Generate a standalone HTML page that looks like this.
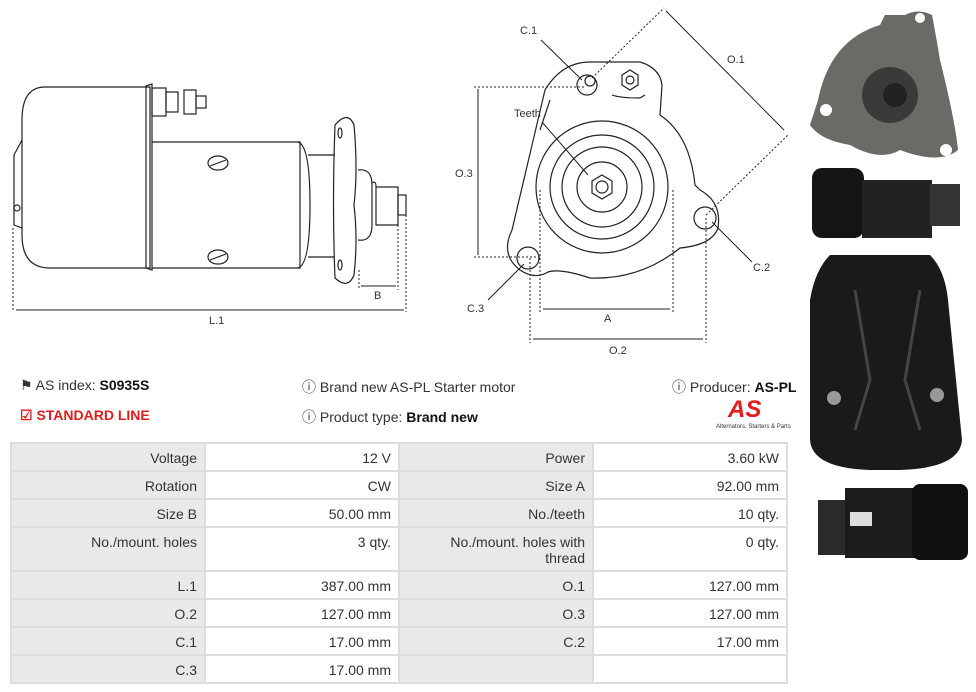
<!DOCTYPE html>
<html><head><meta charset="utf-8"><style>
body{margin:0;width:976px;height:692px;background:#fff;font-family:"Liberation Sans",sans-serif;position:relative;overflow:hidden;color:#333}
.t{position:absolute;font-size:14px;white-space:nowrap}
table{position:absolute;left:10px;top:442px;border-collapse:collapse;font-size:14px;color:#333}
td{border:2px solid #ddd;text-align:right;padding:6px 7px 4px 6px;vertical-align:top;height:16px}
td.l{background:#e9e9e9;width:179px}
td.v{width:179px}
</style></head><body>
<svg style="position:absolute;left:0;top:0" width="976" height="692" viewBox="0 0 976 692" fill="none" stroke="#222" stroke-width="1.2">
<path d="M150 87 H45 Q22 87 22 120 V235 Q22 268 50 268 H150 Z"/>
<path d="M22 140 L14 155 V225 L22 228"/>
<circle cx="17" cy="208" r="3"/>
<path d="M146 86 L152 84 V270 L146 268 Z"/>
<rect x="152" y="88" width="14" height="28"/>
<rect x="166" y="92" width="12" height="20"/><rect x="184" y="90" width="12" height="24"/><rect x="196" y="96" width="10" height="12"/>
<path d="M152 142 H300 V268 H152"/>
<path d="M298 142 Q310 145 310 205 Q310 265 298 268"/>
<path d="M308 155 H335 M308 257 H335"/>
<path d="M335 125 Q348 110 354 125 Q358 170 354 205 Q358 240 354 275 Q348 290 335 278 Q332 205 335 125Z"/>
<ellipse cx="340" cy="133" rx="2" ry="5"/><ellipse cx="340" cy="265" rx="2" ry="5"/>
<path d="M358 170 Q372 168 372 185 V225 Q372 242 358 240"/>
<path d="M372 183 Q376 180 376 187 M376 187 H398 V225 H376 Z"/>
<rect x="398" y="195" width="8" height="20"/>
<ellipse cx="218" cy="163" rx="10" ry="7"/><line x1="210" y1="166" x2="226" y2="160"/>
<ellipse cx="218" cy="257" rx="10" ry="7"/><line x1="210" y1="260" x2="226" y2="254"/>
<g stroke-dasharray="2 2" stroke-width="1"><line x1="13" y1="228" x2="13" y2="312"/><line x1="398" y1="225" x2="398" y2="290"/><line x1="406" y1="215" x2="406" y2="312"/><line x1="359" y1="270" x2="359" y2="290"/></g>
<line x1="16" y1="310" x2="404" y2="310" stroke-width="1"/>
<line x1="361" y1="286" x2="396" y2="286" stroke-width="1"/>
<path d="M520 270 Q500 255 512 230 L545 90 Q562 62 590 62 H640 Q660 68 662 85 L660 115 Q690 135 695 185 L700 190 Q722 202 718 228 Q712 245 680 248 Q640 280 590 278 Q560 268 548 272 Q535 280 520 270Z"/>
<path d="M550 100 L540 130" />
<path d="M612 95 Q620 98 640 98 L645 95"/>
<circle cx="602" cy="187" r="66"/><circle cx="602" cy="187" r="52"/><circle cx="602" cy="187" r="40"/>
<circle cx="602" cy="187" r="25"/><polygon points="602,175 612,181 612,193 602,199 592,193 592,181"/><circle cx="602" cy="187" r="6"/>
<circle cx="587" cy="85" r="10"/><circle cx="590" cy="81" r="5"/>
<polygon points="630,70 638,75 638,85 630,90 622,85 622,75"/><circle cx="630" cy="80" r="4"/>
<circle cx="705" cy="218" r="11"/><circle cx="528" cy="258" r="11"/>
<g stroke-dasharray="2 2" stroke-width="1">
<line x1="474" y1="87" x2="585" y2="87"/><line x1="474" y1="257" x2="540" y2="257"/>
<line x1="540" y1="190" x2="540" y2="313"/><line x1="673" y1="190" x2="673" y2="313"/>
<line x1="530" y1="258" x2="530" y2="343"/><line x1="706" y1="218" x2="706" y2="343"/>
<line x1="592" y1="78" x2="664" y2="8"/><line x1="706" y1="215" x2="788" y2="135"/>
</g>
<g stroke-width="1"><line x1="478" y1="89" x2="478" y2="255"/><line x1="543" y1="309" x2="670" y2="309"/><line x1="533" y1="339" x2="703" y2="339"/><line x1="666" y1="11" x2="784" y2="130"/>
<line x1="541" y1="40" x2="582" y2="80"/><line x1="542" y1="122" x2="588" y2="175"/><line x1="752" y1="262" x2="712" y2="222"/><line x1="488" y1="300" x2="524" y2="264"/></g>
<path d="M818 100 Q830 40 880 25 L885 15 H905 Q918 8 932 15 Q935 30 940 60 Q955 120 958 150 Q940 165 900 150 Q880 162 850 145 Q820 140 810 125 Z" fill="#6b6a66" stroke="none"/>
<circle cx="890" cy="95" r="28" fill="#3a3a38" stroke="none"/><circle cx="895" cy="95" r="12" fill="#222" stroke="none"/>
<circle cx="826" cy="110" r="6" fill="#fff" stroke="none"/><circle cx="946" cy="150" r="6" fill="#fff" stroke="none"/><circle cx="920" cy="18" r="5" fill="#fff" stroke="none"/>
<rect x="812" y="168" width="52" height="70" rx="10" fill="#151515" stroke="none"/><rect x="862" y="180" width="70" height="58" fill="#222" stroke="none"/><rect x="930" y="184" width="30" height="42" fill="#333" stroke="none"/>
<path d="M830 255 H930 Q945 270 948 300 L962 440 Q960 468 900 470 H870 Q812 468 810 440 L810 300 Q815 270 830 255Z" fill="#1a1a1a" stroke="none"/>
<path d="M855 290 L870 380 L855 430 M920 290 L905 380 L920 430" stroke="#444" stroke-width="3"/>
<circle cx="834" cy="398" r="7" fill="#999" stroke="none"/><circle cx="937" cy="395" r="7" fill="#999" stroke="none"/>
<rect x="818" y="500" width="30" height="55" fill="#2a2a2a" stroke="none"/><rect x="845" y="488" width="70" height="70" fill="#1c1c1c" stroke="none"/><rect x="912" y="484" width="56" height="76" rx="8" fill="#111" stroke="none"/><rect x="850" y="512" width="22" height="14" fill="#ddd" stroke="none"/>
</svg>
<div class="t" style="left:520px;top:25px;font-size:11px">C.1</div>
<div class="t" style="left:727px;top:54px;font-size:11px">O.1</div>
<div class="t" style="left:514px;top:108px;font-size:11px">Teeth</div>
<div class="t" style="left:455px;top:168px;font-size:11px">O.3</div>
<div class="t" style="left:753px;top:262px;font-size:11px">C.2</div>
<div class="t" style="left:467px;top:303px;font-size:11px">C.3</div>
<div class="t" style="left:604px;top:313px;font-size:11px">A</div>
<div class="t" style="left:609px;top:345px;font-size:11px">O.2</div>
<div class="t" style="left:374px;top:290px;font-size:11px">B</div>
<div class="t" style="left:209px;top:315px;font-size:11px">L.1</div>
<div class="t" style="left:20px;top:377px">&#9873; AS index: <b style="color:#111">S0935S</b></div>
<div class="t" style="left:20px;top:407px;color:#e41c1c;font-weight:bold">&#9745; STANDARD LINE</div>
<div class="t" style="left:302px;top:377px">&#9432; Brand new AS-PL Starter motor</div>
<div class="t" style="left:302px;top:407px">&#9432; Product type: <b style="color:#111">Brand new</b></div>
<div class="t" style="left:672px;top:377px">&#9432; Producer: <b style="color:#111">AS-PL</b></div>
<div class="t" style="left:728px;top:396px;color:#e41c1c;font-weight:bold;font-style:italic;font-size:24px">AS</div>
<div class="t" style="left:716px;top:424px;font-size:6px">Alternators, Starters &amp; Parts</div>
<table>
<tr><td class="l">Voltage</td><td class="v">12 V</td><td class="l">Power</td><td class="v">3.60 kW</td></tr>
<tr><td class="l">Rotation</td><td class="v">CW</td><td class="l">Size A</td><td class="v">92.00 mm</td></tr>
<tr><td class="l">Size B</td><td class="v">50.00 mm</td><td class="l">No./teeth</td><td class="v">10 qty.</td></tr>
<tr><td class="l">No./mount. holes</td><td class="v">3 qty.</td><td class="l">No./mount. holes with<br>thread</td><td class="v">0 qty.</td></tr>
<tr><td class="l">L.1</td><td class="v">387.00 mm</td><td class="l">O.1</td><td class="v">127.00 mm</td></tr>
<tr><td class="l">O.2</td><td class="v">127.00 mm</td><td class="l">O.3</td><td class="v">127.00 mm</td></tr>
<tr><td class="l">C.1</td><td class="v">17.00 mm</td><td class="l">C.2</td><td class="v">17.00 mm</td></tr>
<tr><td class="l">C.3</td><td class="v">17.00 mm</td><td class="l"></td><td class="v"></td></tr>
</table>
</body></html>
